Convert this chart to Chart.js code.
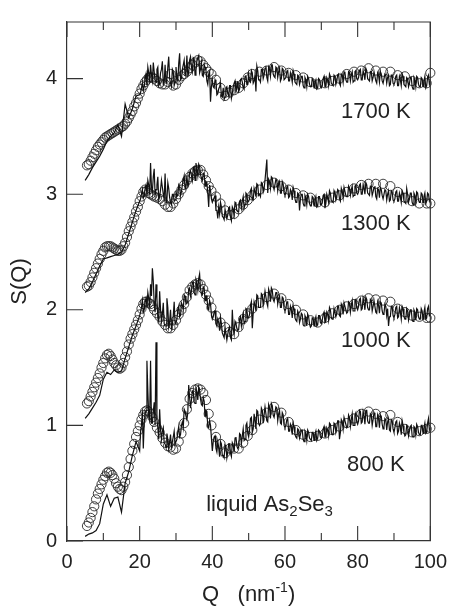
<!DOCTYPE html>
<html><head><meta charset="utf-8">
<script src="https://cdn.jsdelivr.net/npm/chart.js@4.4.1/dist/chart.umd.min.js"></script>
<style>html,body{margin:0;padding:0;background:#fff;}canvas{display:block;}</style>
</head><body>
<canvas id="c" width="456" height="606"></canvas>
<script>
// ---- data: experiment (circles) ----
const circleQ = [5.5,6,6.5,7,7.5,8,8.5,9,9.5,10,10.5,11,11.5,12,12.5,13,13.5,14,14.5,15,15.5,16,16.5,17,17.5,18,18.5,19,19.5,20,20.5,21,21.5,22,22.5,23,23.5,24,
24.75,25.5,26.25,27,27.75,28.5,29.25,30,30.75,31.5,32.25,33,33.75,34.5,35.25,36,36.75,37.5,38.25,39,39.75,
41,42.25,43.5,44.75,46,47.25,48.5,49.75,51,
53,55,57,59,61,63,65,67,69,71,73,75,77,79,81,83,85,87,89,91,93,95,97,99,100];

const exp800 = [0.13,0.16,0.20,0.25,0.30,0.36,0.41,0.45,0.49,0.53,0.56,0.59,0.60,0.59,0.57,0.54,0.50,0.47,0.45,0.44,0.47,0.51,0.57,0.64,0.71,0.78,0.84,0.90,0.95,1.00,1.05,1.09,1.12,1.13,1.12,1.10,1.07,1.03,
0.98,0.94,0.89,0.85,0.82,0.81,0.79,0.80,0.86,0.93,1.02,1.14,1.23,1.28,1.31,1.32,1.31,1.28,1.22,1.10,1.00,
0.90,0.84,0.76,0.80,0.80,0.80,0.85,0.91,0.96,
1.05,1.11,1.16,1.11,1.03,0.96,0.92,0.90,0.91,0.93,0.96,0.99,1.02,1.06,1.10,1.12,1.10,1.08,1.09,1.03,0.97,0.94,0.95,0.97,0.98];

const exp1000 = [1.19,1.21,1.25,1.29,1.33,1.37,1.41,1.45,1.50,1.54,1.58,1.61,1.62,1.60,1.57,1.54,1.52,1.50,1.49,1.50,1.54,1.59,1.64,1.70,1.75,1.79,1.83,1.87,1.91,1.96,2.01,2.05,2.07,2.07,2.06,2.05,2.03,2.00,
1.97,1.94,1.90,1.87,1.84,1.84,1.87,1.91,1.96,2.00,2.05,2.11,2.17,2.20,2.22,2.23,2.22,2.18,2.13,2.08,2.02,
1.95,1.89,1.85,1.81,1.79,1.85,1.92,1.97,2.01,
2.06,2.11,2.14,2.10,2.05,2.00,1.96,1.91,1.89,1.93,1.97,2.00,2.03,2.05,2.08,2.10,2.09,2.08,2.07,2.01,1.98,1.95,1.94,1.93,1.93];

const exp1300 = [2.20,2.21,2.24,2.28,2.32,2.36,2.40,2.44,2.48,2.51,2.54,2.55,2.55,2.55,2.54,2.53,2.52,2.51,2.51,2.52,2.55,2.58,2.63,2.68,2.72,2.76,2.80,2.85,2.89,2.94,2.98,3.02,3.04,3.03,3.01,3.00,2.99,2.98,
2.97,2.96,2.94,2.91,2.89,2.89,2.92,2.96,3.00,3.04,3.08,3.12,3.15,3.18,3.20,3.21,3.21,3.17,3.12,3.07,3.03,
2.98,2.92,2.86,2.82,2.83,2.87,2.91,2.95,2.99,
3.04,3.08,3.10,3.07,3.04,3.01,2.99,2.97,2.93,2.93,2.97,2.99,3.02,3.05,3.08,3.09,3.09,3.09,3.07,3.02,2.97,2.94,2.92,2.92,2.92];

const exp1700 = [3.25,3.26,3.29,3.32,3.35,3.38,3.41,3.43,3.45,3.47,3.49,3.50,3.51,3.52,3.53,3.54,3.55,3.56,3.57,3.58,3.59,3.61,3.63,3.66,3.69,3.72,3.76,3.79,3.83,3.87,3.91,3.94,3.97,3.99,4.01,4.01,4.01,4.00,
3.98,3.96,3.95,3.95,3.97,4.04,3.94,3.95,3.99,4.02,4.04,4.06,4.09,4.12,4.14,4.16,4.15,4.12,4.09,4.06,4.04,
3.99,3.92,3.85,3.88,3.90,3.92,3.96,4.01,4.04,
4.06,4.07,4.10,4.07,4.05,4.03,4.01,3.97,3.95,3.96,3.98,4.00,4.04,4.06,4.07,4.09,4.07,4.06,4.06,4.03,4.02,3.98,3.96,3.96,4.05];

// ---- data: simulation (noisy lines), sampled on two interleaved Q grids ----
const simQ = [5,6,7,8,9,10,11,12,13,14,15,16,17,18,19,20,
20.5,21,21.5,22,22.5,23,23.5,24,24.5,25,25.5,26,26.5,27,27.5,28,28.5,29,29.5,30,
30.5,31,31.5,32,32.5,33,33.5,34,34.5,35,35.5,36,36.5,37,37.5,38,38.5,39,39.5,40,
40.5,41,41.5,42,42.5,43,43.5,44,44.5,45,45.5,46,46.5,47,47.5,48,48.5,49,49.5,50,
50.5,51,51.5,52,52.5,53,53.5,54,54.5,55,55.5,56,56.5,57,57.5,58,58.5,59,59.5,60,
60.5,61,61.5,62,62.5,63,63.5,64,64.5,65,65.5,66,66.5,67,67.5,68,68.5,69,69.5,70,
70.5,71,71.5,72,72.5,73,73.5,74,74.5,75,75.5,76,76.5,77,77.5,78,78.5,79,79.5,80,
80.5,81,81.5,82,82.5,83,83.5,84,84.5,85,85.5,86,86.5,87,87.5,88,88.5,89,89.5,90,
90.5,91,91.5,92,92.5,93,93.5,94,94.5,95,95.5,96,96.5,97,97.5,98,98.5,99,99.5,100];

const simQb = [20.25,20.75,21.25,21.75,22.25,22.75,23.25,23.75,24.25,24.75,25.25,25.75,26.25,26.75,27.25,27.75,28.25,28.75,29.25,29.75,
30.25,30.75,31.25,31.75,32.25,32.75,33.25,33.75,34.25,34.75,35.25,35.75,36.25,36.75,37.25,37.75,38.25,38.75,39.25,39.75,
40.25,40.75,41.25,41.75,42.25,42.75,43.25,43.75,44.25,44.75,45.25,45.75,46.25,46.75,47.25,47.75,48.25,48.75,49.25,49.75,
50.25,50.75,51.25,51.75,52.25,52.75,53.25,53.75,54.25,54.75,55.25,55.75,56.25,56.75,57.25,57.75,58.25,58.75,59.25,59.75,
60.25,60.75,61.25,61.75,62.25,62.75,63.25,63.75,64.25,64.75,65.25,65.75,66.25,66.75,67.25,67.75,68.25,68.75,69.25,69.75,
70.25,70.75,71.25,71.75,72.25,72.75,73.25,73.75,74.25,74.75,75.25,75.75,76.25,76.75,77.25,77.75,78.25,78.75,79.25,79.75,
80.25,80.75,81.25,81.75,82.25,82.75,83.25,83.75,84.25,84.75,85.25,85.75,86.25,86.75,87.25,87.75,88.25,88.75,89.25,89.75,
90.25,90.75,91.25,91.75,92.25,92.75,93.25,93.75,94.25,94.75,95.25,95.75,96.25,96.75,97.25,97.75,98.25,98.75,99.25,99.75];

const sim800 = [0.04,0.06,0.07,0.09,0.15,0.32,0.40,0.30,0.37,0.38,0.25,0.50,0.60,0.74,0.86,0.78,
1.00,0.80,1.10,1.56,1.08,1.56,1.02,1.20,1.72,0.98,1.14,0.88,0.98,0.84,0.93,0.80,0.92,0.86,0.95,0.84,
0.94,0.90,1.00,0.98,1.12,1.05,1.35,1.15,1.30,1.20,1.32,1.22,1.30,1.18,1.24,1.08,1.12,0.98,1.00,0.78,
0.90,0.80,0.86,0.73,0.84,0.74,0.83,0.72,0.84,0.76,0.85,0.77,0.90,0.80,0.93,0.84,0.97,0.88,1.02,0.90,
1.06,0.94,1.10,0.97,1.12,1.00,1.15,1.02,1.16,1.04,1.18,1.06,1.17,1.07,1.16,1.04,1.13,1.01,1.09,0.98,
1.05,0.95,1.01,0.92,0.99,0.90,0.97,0.89,0.96,0.88,0.95,0.87,0.94,0.88,0.94,0.87,0.95,0.89,0.95,0.89,
0.97,0.90,0.98,0.91,1.01,0.92,1.02,0.94,1.04,0.88,1.05,0.97,1.07,0.98,1.09,0.99,1.10,1.00,1.11,1.01,
1.13,1.02,1.12,1.01,1.13,1.02,1.10,1.00,1.11,0.99,1.09,0.98,1.08,0.97,1.06,0.96,1.06,0.95,1.04,0.94,
1.03,0.93,1.02,0.92,1.00,0.91,1.00,0.91,0.99,0.91,0.99,0.92,0.99,0.92,1.00,0.93,1.02,0.94,1.06,0.98];
const sim800b = [0.95,1.12,1.02,1.13,1.30,1.05,1.02,1.12,1.00,1.05,0.88,0.96,0.95,0.85,0.81,0.88,0.86,0.80,0.90,0.84,
0.88,0.99,0.92,1.03,1.14,1.08,1.11,1.24,1.22,1.30,1.19,1.29,1.33,1.23,1.17,1.21,1.13,0.99,1.04,0.89,
0.86,0.91,0.77,0.81,0.86,0.74,0.72,0.82,0.77,0.84,0.73,0.83,0.89,0.82,0.81,0.92,0.91,0.87,1.00,0.93,
0.96,1.07,0.97,1.04,1.13,1.02,1.02,1.13,1.09,1.16,1.03,1.15,1.19,1.09,1.07,1.15,1.10,1.02,1.11,1.00,
1.00,1.06,0.95,0.99,1.02,0.92,0.89,0.96,0.92,0.96,0.86,0.93,0.96,0.89,0.87,0.94,0.92,0.87,0.96,0.90,
0.91,0.99,0.90,0.96,1.02,0.94,0.92,1.01,0.98,1.04,0.94,1.03,1.07,1.01,0.99,1.07,1.05,1.00,1.09,1.03,
1.04,1.12,1.03,1.08,1.13,1.04,1.02,1.09,1.05,1.09,0.99,1.06,1.09,1.01,0.99,1.05,1.03,0.96,1.05,0.97,
0.98,1.04,0.95,0.99,1.04,0.94,0.92,0.99,0.95,1.00,0.90,0.98,1.01,0.94,0.92,1.00,0.98,0.93,1.02,0.96];

const sim1000 = [1.06,1.10,1.15,1.20,1.26,1.40,1.46,1.44,1.48,1.46,1.47,1.58,1.68,1.78,1.86,1.95,
2.02,1.98,2.07,2.03,2.10,2.22,2.36,2.05,2.22,1.93,2.16,1.90,2.06,1.86,2.10,1.85,2.00,1.87,2.07,1.89,
2.00,1.94,2.06,2.00,2.12,2.06,2.18,2.12,2.24,2.15,2.26,2.17,2.31,2.14,2.20,2.08,2.12,2.00,2.05,1.92,
1.98,1.88,1.92,1.82,1.88,1.78,1.85,1.74,1.83,1.76,2.00,1.79,1.88,1.82,1.92,1.86,1.97,1.90,2.00,1.93,
2.04,1.84,2.07,1.99,2.12,2.02,2.14,2.04,2.16,2.06,2.18,2.07,2.17,2.07,2.15,2.05,2.12,2.02,2.10,1.99,
2.07,1.96,2.03,1.93,2.01,1.91,1.99,1.89,1.97,1.87,1.95,1.86,1.94,1.85,1.93,1.86,1.94,1.87,1.95,1.88,
1.96,1.89,1.98,1.91,2.00,1.92,2.01,1.94,2.03,1.95,2.05,1.96,2.06,1.97,2.07,1.98,2.08,1.99,2.09,2.00,
2.09,2.00,2.10,2.00,2.09,2.00,2.09,1.99,2.08,1.98,2.07,1.97,2.06,1.96,2.05,1.95,1.86,1.94,2.03,1.93,
2.02,1.93,2.02,1.92,2.01,1.92,2.01,1.91,2.00,1.91,2.00,1.91,2.00,1.92,2.01,1.92,2.02,1.93,2.03,1.96];
const sim1000b = [1.98,2.08,2.00,2.10,2.15,2.02,2.12,2.25,1.98,2.10,1.90,2.00,1.96,1.88,1.86,2.02,1.90,1.84,1.95,1.88,
1.92,2.03,1.95,2.04,2.13,2.05,2.06,2.19,2.16,2.24,2.13,2.23,2.27,2.18,2.13,2.19,2.12,2.01,2.08,1.96,
1.94,1.99,1.86,1.89,1.93,1.80,1.76,1.85,1.79,1.85,1.74,1.84,1.90,1.84,1.83,1.94,1.93,1.88,2.01,1.93,
1.96,2.07,1.97,2.04,2.13,2.02,2.02,2.13,2.09,2.16,2.03,2.15,2.19,2.09,2.07,2.15,2.10,2.02,2.11,2.01,
2.01,2.07,1.96,2.00,2.03,1.93,1.90,1.97,1.92,1.96,1.86,1.93,1.96,1.88,1.86,1.93,1.91,1.86,1.95,1.89,
1.91,1.98,1.90,1.96,2.02,1.93,1.92,2.01,1.97,2.03,1.94,2.03,2.06,2.00,1.98,2.06,2.04,1.99,2.08,2.02,
2.03,2.10,2.01,2.06,2.11,2.02,2.00,2.08,2.03,2.08,1.97,2.04,2.07,1.99,1.97,2.03,2.01,1.94,2.03,1.95,
1.96,2.03,1.94,1.98,2.03,1.94,1.92,1.99,1.95,2.00,1.90,1.98,2.01,1.94,1.92,1.99,1.98,1.92,2.01,1.95];

const sim1300 = [2.15,2.18,2.24,2.31,2.38,2.44,2.45,2.46,2.47,2.48,2.50,2.56,2.66,2.76,2.86,2.94,
3.00,2.97,3.05,3.00,3.08,3.27,3.02,3.22,3.04,3.15,2.98,3.12,3.00,3.18,2.95,3.05,2.93,3.00,2.94,3.03,
2.99,3.06,3.02,3.12,3.05,3.16,3.09,3.20,3.12,3.24,3.27,3.16,3.24,3.14,3.18,3.07,3.10,2.89,3.03,2.93,
2.97,2.86,2.79,2.83,2.89,2.80,2.87,2.79,2.88,2.80,2.89,2.82,2.92,2.85,2.94,2.88,2.98,2.91,3.00,2.94,
3.03,2.96,3.05,2.98,3.08,3.00,3.10,3.02,3.12,3.30,3.13,3.05,3.14,3.04,3.13,3.03,3.11,3.01,3.09,2.99,
3.06,2.97,3.04,2.95,3.03,2.93,3.01,2.86,3.00,2.92,2.99,2.91,2.98,2.90,2.98,2.90,2.98,2.90,2.98,2.91,
2.99,2.88,3.00,2.93,3.01,2.94,3.03,2.95,3.04,2.96,3.05,2.97,3.06,2.98,3.07,2.99,3.07,2.99,3.08,3.00,
3.08,3.00,3.08,3.00,3.08,3.00,3.07,2.99,3.06,2.98,3.05,2.97,3.04,2.96,3.04,2.95,3.03,2.95,3.02,2.94,
3.02,2.94,3.01,2.93,3.01,2.93,3.05,2.93,3.01,2.93,3.01,2.93,3.01,2.93,3.01,2.93,3.01,2.94,3.00,2.96];
const sim1300b = [2.96,3.04,2.98,3.08,3.12,3.00,3.06,3.15,2.99,3.08,2.95,3.04,3.06,2.96,2.93,3.10,2.97,2.91,3.00,2.95,
2.98,3.08,2.99,3.08,3.16,3.07,3.07,3.19,3.16,3.23,3.12,3.22,3.26,3.17,3.12,3.18,3.11,3.01,3.08,2.96,
2.95,2.99,2.86,2.89,2.93,2.81,2.78,2.87,2.82,2.89,2.77,2.87,2.93,2.86,2.85,2.95,2.94,2.88,3.01,2.93,
2.96,3.05,2.95,3.02,3.09,2.99,2.98,3.09,3.05,3.12,3.01,3.11,3.15,3.07,3.04,3.12,3.09,3.01,3.11,3.01,
3.01,3.07,2.98,3.02,3.06,2.96,2.93,3.00,2.96,3.00,2.90,2.97,3.00,2.92,2.90,2.97,2.95,2.89,2.98,2.91,
2.93,3.00,2.92,2.97,3.03,2.94,2.93,3.01,2.98,3.03,2.94,3.02,3.06,2.99,2.98,3.05,3.04,2.98,3.07,3.01,
3.02,3.09,3.00,3.05,3.10,3.01,2.99,3.07,3.02,3.07,2.96,3.04,3.06,2.99,2.96,3.03,3.00,2.94,3.03,2.95,
2.96,3.03,2.94,2.98,3.03,2.94,2.92,3.00,2.96,3.01,2.91,2.99,3.02,2.95,2.93,3.00,2.98,2.92,3.01,2.94];

const sim1700 = [3.12,3.17,3.23,3.28,3.33,3.39,3.46,3.50,3.53,3.60,3.50,3.78,3.66,3.74,3.85,3.86,
3.92,3.90,4.00,3.94,4.05,4.12,3.98,4.06,3.97,4.10,3.96,4.08,3.95,4.12,3.99,4.19,3.96,4.08,3.94,4.10,
3.98,4.22,4.00,4.12,4.03,4.20,4.05,4.19,4.06,4.17,4.07,4.18,4.05,4.14,4.02,4.10,3.98,4.04,3.80,3.99,
3.92,3.97,3.87,3.93,3.85,3.92,3.84,3.93,3.85,3.94,3.87,3.96,3.89,3.98,3.91,4.00,3.93,4.02,3.95,4.04,
3.97,4.05,3.98,3.89,4.07,3.99,4.08,4.00,4.09,4.01,4.10,4.02,4.12,4.02,4.10,4.01,4.09,4.00,4.08,3.99,
4.06,3.98,4.05,3.97,4.04,3.96,4.03,3.95,4.02,3.94,4.01,3.93,4.00,3.93,4.00,3.92,3.99,3.92,3.99,3.92,
4.00,3.93,4.01,3.94,4.02,3.95,4.03,3.95,4.03,3.96,4.04,3.97,4.05,3.97,4.06,3.98,4.06,3.98,4.07,3.99,
4.07,3.99,4.07,3.99,4.07,3.99,4.06,3.98,4.06,3.98,4.05,3.97,4.04,3.96,4.04,3.96,4.03,3.95,4.03,3.95,
4.02,3.94,4.02,3.94,4.02,3.94,4.01,3.93,4.01,3.93,4.01,3.93,4.01,3.93,4.01,3.93,4.02,3.94,4.03,3.98];
const sim1700b = [3.88,3.96,3.93,4.04,4.10,3.97,4.03,4.14,3.99,4.08,3.94,4.05,4.15,3.97,3.96,4.10,4.00,3.93,4.06,3.97,
4.01,4.13,3.99,4.08,4.16,4.04,4.03,4.16,4.10,4.18,4.03,4.15,4.20,4.08,4.03,4.12,4.07,3.95,4.06,3.93,
3.93,3.99,3.86,3.91,3.96,3.84,3.82,3.92,3.87,3.94,3.83,3.93,3.98,3.91,3.89,3.99,3.97,3.91,4.03,3.95,
3.98,4.07,3.96,4.03,4.11,3.99,3.97,4.08,4.03,4.11,3.98,4.08,4.12,4.04,4.01,4.09,4.06,3.98,4.09,3.99,
4.01,4.07,3.98,4.02,4.07,3.97,3.95,4.02,3.98,4.02,3.92,3.99,4.02,3.95,3.93,3.99,3.97,3.91,4.00,3.93,
3.94,4.02,3.93,3.99,4.04,3.96,3.94,4.02,3.98,4.04,3.94,4.03,4.06,3.99,3.97,4.05,4.03,3.97,4.06,4.00,
4.01,4.08,3.99,4.04,4.09,4.00,3.98,4.06,4.01,4.06,3.96,4.03,4.06,3.98,3.96,4.03,4.01,3.94,4.03,3.96,
3.97,4.03,3.94,3.99,4.04,3.95,3.93,4.00,3.96,4.01,3.91,3.99,4.02,3.95,3.93,4.00,3.98,3.92,4.01,3.95];

const xTicks = [0,20,40,60,80,100];
const xMinorTicks = [10,30,50,70,90];
const yTicks = [0,1,2,3,4];
const curveLabels = ['800 K','1000 K','1300 K','1700 K'];
const curveLabelY = [0.66,1.73,2.74,3.71];
const curveLabelQ = 85;
const sampleQ = 38.3, sampleY = 0.33;

// ---- chart ----
const FONT = '"Liberation Sans", Arial, Helvetica, sans-serif';
const INK = '#222';

const expSets = [exp800, exp1000, exp1300, exp1700];
const simSets = [[sim800, sim800b], [sim1000, sim1000b], [sim1300, sim1300b], [sim1700, sim1700b]];
const datasets = [];
simSets.forEach(([a, b]) => {
  const pts = simQ.map((q,i)=>({x:q, y:a[i]})).concat(simQb.map((q,i)=>({x:q, y:b[i]})));
  pts.sort((p, r) => p.x - r.x);
  datasets.push({ data: pts, showLine: true, borderColor: '#111', borderWidth: 1.2, pointRadius: 0, tension: 0, fill: false });
});
expSets.forEach(s => datasets.push({
  data: circleQ.map((q,i)=>({x:q, y:s[i]})),
  showLine: false, pointStyle: 'circle', pointRadius: 4.6, pointBorderWidth: 0.9,
  pointBorderColor: '#2a2a2a', pointBackgroundColor: 'rgba(0,0,0,0)', clip: false
}));

const frame = {
  id: 'frame',
  afterDraw(chart) {
    const {ctx, chartArea: a, scales: {x, y}} = chart;
    ctx.save();
    ctx.strokeStyle = '#333';
    ctx.lineWidth = 1.2;
    ctx.beginPath();
    ctx.moveTo(a.left, a.top); ctx.lineTo(a.right, a.top); ctx.lineTo(a.right, a.bottom);
    ctx.stroke();
    ctx.lineWidth = 1.1;
    ctx.beginPath();
    xTicks.forEach(v => { const p = x.getPixelForValue(v);
      ctx.moveTo(p, a.bottom); ctx.lineTo(p, a.bottom - 15);
      ctx.moveTo(p, a.top); ctx.lineTo(p, a.top + 15); });
    xMinorTicks.forEach(v => { const p = x.getPixelForValue(v);
      ctx.moveTo(p, a.bottom); ctx.lineTo(p, a.bottom - 8);
      ctx.moveTo(p, a.top); ctx.lineTo(p, a.top + 8); });
    yTicks.forEach(v => { const p = y.getPixelForValue(v);
      ctx.moveTo(a.left, p); ctx.lineTo(a.left + 16, p); });
    ctx.stroke();

    ctx.fillStyle = INK;
    ctx.font = '22px ' + FONT;
    ctx.textAlign = 'center';
    ctx.textBaseline = 'middle';
    curveLabels.forEach((t, i) => ctx.fillText(t, x.getPixelForValue(curveLabelQ), y.getPixelForValue(curveLabelY[i])));

    // liquid As2Se3 with subscripts
    const parts = [['liquid As', 22, 0], ['2', 15, 5], ['Se', 22, 0], ['3', 15, 5]];
    ctx.textAlign = 'left';
    ctx.textBaseline = 'alphabetic';
    let cx = x.getPixelForValue(sampleQ);
    const base = y.getPixelForValue(sampleY) + 8;
    parts.forEach(([t, s, dy]) => { ctx.font = s + 'px ' + FONT; ctx.fillText(t, cx, base + dy); cx += ctx.measureText(t).width; });

    // x axis title with superscript
    const tparts = [['Q   (nm', 22, 0], ['-1', 14, -9], [')', 22, 0]];
    let w = 0;
    tparts.forEach(([t, s]) => { ctx.font = s + 'px ' + FONT; w += ctx.measureText(t).width; });
    let tx = (a.left + a.right) / 2 - w / 2;
    const tb = 601;
    tparts.forEach(([t, s, dy]) => { ctx.font = s + 'px ' + FONT; ctx.fillText(t, tx, tb + dy); tx += ctx.measureText(t).width; });
    ctx.restore();
  }
};

new Chart(document.getElementById('c').getContext('2d'), {
  type: 'scatter',
  data: { datasets },
  options: {
    responsive: false, animation: false, devicePixelRatio: 1,
    layout: { padding: { left: 0, right: 19, top: 14, bottom: 0 } },
    plugins: { legend: { display: false }, tooltip: { enabled: false } },
    scales: {
      x: {
        type: 'linear', min: 0, max: 100,
        afterBuildTicks: s => { s.ticks = xTicks.map(v => ({ value: v })); },
        afterFit: s => { s.height = 65; },
        grid: { display: false, drawTicks: false },
        border: { display: true, color: '#333', width: 1.2 },
        ticks: { padding: 9, autoSkip: false, maxRotation: 0, color: INK, font: { family: FONT, size: 20 } },
        title: { display: false }
      },
      y: {
        type: 'linear', min: 0, max: 4.49,
        afterBuildTicks: s => { s.ticks = yTicks.map(v => ({ value: v })); },
        afterFit: s => { s.width = 67; },
        grid: { display: false, drawTicks: false },
        border: { display: true, color: '#333', width: 1.2 },
        ticks: { padding: 10, color: INK, font: { family: FONT, size: 20 } },
        title: { display: true, text: 'S(Q)', color: INK, font: { family: FONT, size: 22 }, padding: { top: 7, bottom: 0 } }
      }
    }
  },
  plugins: [frame]
});
</script>
</body></html>
